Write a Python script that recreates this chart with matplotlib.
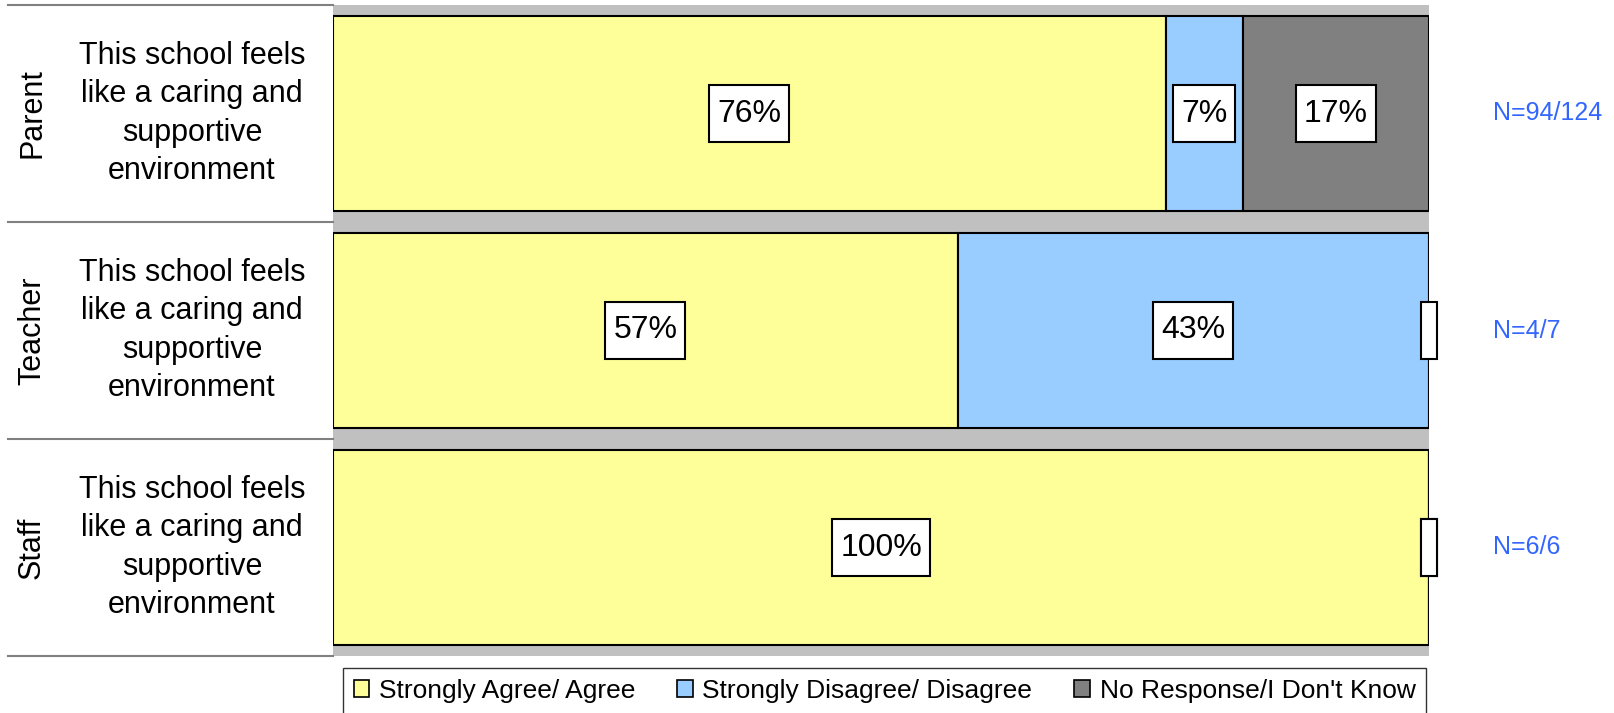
import matplotlib.pyplot as plt
import matplotlib.transforms as mtransforms
from matplotlib.patches import Patch, Rectangle
from matplotlib.path import Path
import numpy as np

plt.rcParams['font.family'] = ['Liberation Sans', 'DejaVu Sans']

# data
groups = ['Parent', 'Teacher', 'Staff']
question = 'This school feels\nlike a caring and\nsupportive\nenvironment'
series = ['Strongly Agree/ Agree', 'Strongly Disagree/ Disagree', "No Response/I Don't Know"]
agree = [76, 57, 100]
disagree = [7, 43, 0]
no_resp = [17, 0, 0]
n_labels = ['N=94/124', 'N=4/7', 'N=6/6']

colors = ['#FFFF99', '#99CCFF', '#808080']


def label_box(x0, y0, width, height, mutation_size):
    # label box, more padding top/bottom than sideways
    px = 0.25 * mutation_size
    py = 0.42 * mutation_size
    x0, y0 = x0 - px, y0 - py
    x1, y1 = x0 + width + 2 * px, y0 + height + 2 * py
    return Path([(x0, y0), (x1, y0), (x1, y1), (x0, y1), (x0, y0)], closed=True)


fig = plt.figure(figsize=(16.14, 7.13), dpi=100)
ax = fig.add_axes([333 / 1614, 57 / 713, 1096 / 1614, 651 / 713])
ax.set_facecolor('#C0C0C0')

y = np.arange(len(groups))
left = np.zeros(len(groups))
for vals, col in zip([agree, disagree, no_resp], colors):
    vals = np.array(vals, dtype=float)
    ax.barh(y, vals, left=left, height=0.9, color=col, edgecolor='black', linewidth=1.5, zorder=2)
    for i in range(len(groups)):
        if vals[i] > 0:
            ax.text(left[i] + vals[i] / 2, y[i], f'{vals[i]:.0f}%', ha='center', va='center',
                    fontsize=23, zorder=4,
                    bbox=dict(boxstyle=label_box, facecolor='white', edgecolor='black', linewidth=1.5))
        elif left[i] >= 100:
            # empty label box for a zero segment at the bar end
            ax.add_patch(Rectangle((left[i] - 0.7, y[i] - 0.13), 1.4, 0.26, facecolor='white',
                                   edgecolor='black', linewidth=1.5, zorder=4, clip_on=False))
    left += vals

ax.set_xlim(0, 100)
ax.set_ylim(len(groups) - 0.5, -0.5)
ax.set_xticks([])
ax.set_yticks([])
for s in ax.spines.values():
    s.set_visible(False)

# row labels on the left, N counts on the right
trans = mtransforms.blended_transform_factory(ax.transAxes, ax.transData)
for b in np.arange(len(groups) + 1) - 0.5:
    ax.plot([-0.2965, 0], [b, b], color='#808080', lw=1.5, transform=trans, clip_on=False)

for i, g in enumerate(groups):
    ax.text(-0.2746, y[i], g, rotation=90, ha='center', va='center', fontsize=22, transform=trans)
    ax.text(-0.1287, y[i], question, ha='center', va='center', fontsize=22, linespacing=1.35,
            transform=trans)
    ax.text(1.0584, y[i], n_labels[i], ha='left', va='center', fontsize=18, color='#3366FF',
            transform=trans)

handles = [Patch(facecolor=c, edgecolor='black', linewidth=1.2) for c in colors]
leg = fig.legend(handles, series, loc='center', ncol=3,
                 bbox_to_anchor=(340 / 1614, 0.0, 1089 / 1614, 44 / 713),
                 fontsize=19, frameon=True, fancybox=False, edgecolor='black',
                 handlelength=0.6, handleheight=0.6, handletextpad=0.35, columnspacing=1.6,
                 borderaxespad=0)
leg.get_frame().set_linewidth(1.0)

fig.savefig('out.png', dpi=100)
